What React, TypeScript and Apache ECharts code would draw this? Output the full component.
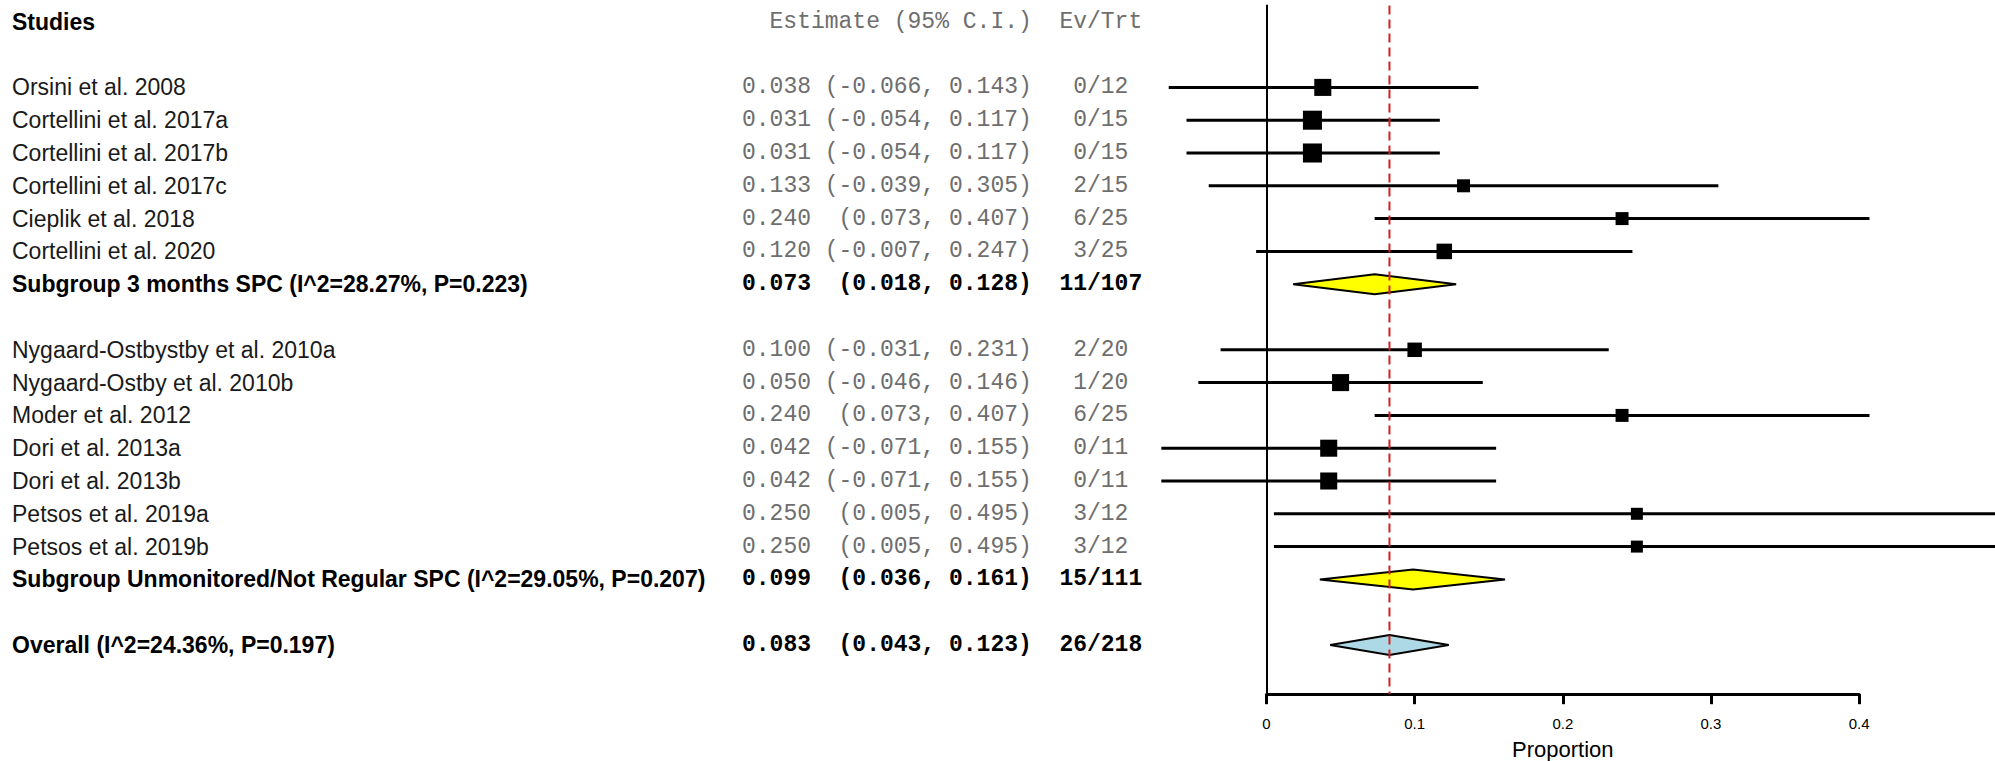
import React, { useEffect, useRef } from "react";
import * as echarts from "echarts";

// ---------------- data ----------------
const headerStudies = "Studies";
const headerEstimate = "Estimate (95% C.I.)";
const headerEvTrt = "Ev/Trt";

const group1Names = [
  "Orsini et al. 2008",
  "Cortellini et al. 2017a",
  "Cortellini et al. 2017b",
  "Cortellini et al. 2017c",
  "Cieplik et al. 2018",
  "Cortellini et al. 2020",
];
const group1Est = [0.038, 0.031, 0.031, 0.133, 0.24, 0.12];
const group1Lower = [-0.066, -0.054, -0.054, -0.039, 0.073, -0.007];
const group1Upper = [0.143, 0.117, 0.117, 0.305, 0.407, 0.247];
const group1Events = [0, 0, 0, 2, 6, 3];
const group1Totals = [12, 15, 15, 15, 25, 25];
const group1Weights = [9.3, 11.6, 11.6, 5.4, 5.4, 7.7];

const group2Names = [
  "Nygaard-Ostbystby et al. 2010a",
  "Nygaard-Ostby et al. 2010b",
  "Moder et al. 2012",
  "Dori et al. 2013a",
  "Dori et al. 2013b",
  "Petsos et al. 2019a",
  "Petsos et al. 2019b",
];
const group2Est = [0.1, 0.05, 0.24, 0.042, 0.042, 0.25, 0.25];
const group2Lower = [-0.031, -0.046, 0.073, -0.071, -0.071, 0.005, 0.005];
const group2Upper = [0.231, 0.146, 0.407, 0.155, 0.155, 0.495, 0.495];
const group2Events = [2, 1, 6, 0, 0, 3, 3];
const group2Totals = [20, 20, 25, 11, 11, 12, 12];
const group2Weights = [6.7, 9.3, 5.4, 9.3, 9.3, 4.6, 4.6];

const subgroupLabels = [
  "Subgroup 3 months SPC (I^2=28.27%, P=0.223)",
  "Subgroup Unmonitored/Not Regular SPC (I^2=29.05%, P=0.207)",
];
const subgroupEst = [0.073, 0.099];
const subgroupLower = [0.018, 0.036];
const subgroupUpper = [0.128, 0.161];
const subgroupEvents = [11, 15];
const subgroupTotals = [107, 111];

const overallLabel = "Overall (I^2=24.36%, P=0.197)";
const overallEst = 0.083;
const overallLower = 0.043;
const overallUpper = 0.123;
const overallEvents = 26;
const overallTotal = 218;

const xTicks = [0, 0.1, 0.2, 0.3, 0.4];
const xAxisTitle = "Proportion";

// ---------------- layout / style ----------------
const W = 1995;
const H = 761;
const SANS = '"Liberation Sans", Arial, Helvetica, sans-serif';
const MONO = '"Liberation Mono", "Courier New", monospace';
const GREY = "#6e6e6e";
const SQUARE_SCALE = 5.59;
const NAME_X = 12;
const EST_X = 742;
const CHAR_W = 13.8;
const CI_RIGHT = EST_X + 21 * CHAR_W;
const EV_CENTER = EST_X + 26 * CHAR_W;

type Row = {
  kind: "header" | "blank" | "study" | "sub" | "overall";
  name?: string;
  est?: number;
  lo?: number;
  hi?: number;
  ev?: number;
  n?: number;
  w?: number;
  fill?: string;
};

function buildRows(): Row[] {
  const rows: Row[] = [{ kind: "header", name: headerStudies }, { kind: "blank" }];
  group1Names.forEach((name, i) =>
    rows.push({
      kind: "study",
      name,
      est: group1Est[i],
      lo: group1Lower[i],
      hi: group1Upper[i],
      ev: group1Events[i],
      n: group1Totals[i],
      w: group1Weights[i],
    })
  );
  rows.push({
    kind: "sub",
    name: subgroupLabels[0],
    est: subgroupEst[0],
    lo: subgroupLower[0],
    hi: subgroupUpper[0],
    ev: subgroupEvents[0],
    n: subgroupTotals[0],
    fill: "#ffff00",
  });
  rows.push({ kind: "blank" });
  group2Names.forEach((name, i) =>
    rows.push({
      kind: "study",
      name,
      est: group2Est[i],
      lo: group2Lower[i],
      hi: group2Upper[i],
      ev: group2Events[i],
      n: group2Totals[i],
      w: group2Weights[i],
    })
  );
  rows.push({
    kind: "sub",
    name: subgroupLabels[1],
    est: subgroupEst[1],
    lo: subgroupLower[1],
    hi: subgroupUpper[1],
    ev: subgroupEvents[1],
    n: subgroupTotals[1],
    fill: "#ffff00",
  });
  rows.push({ kind: "blank" });
  rows.push({
    kind: "overall",
    name: overallLabel,
    est: overallEst,
    lo: overallLower,
    hi: overallUpper,
    ev: overallEvents,
    n: overallTotal,
    fill: "#add8e6",
  });
  rows.push({ kind: "blank" });
  return rows;
}

export default function App() {
  const ref = useRef<HTMLDivElement>(null);

  useEffect(() => {
    if (!ref.current) return;
    const chart = echarts.init(ref.current, undefined, { renderer: "svg" });
    const rows = buildRows();
    const ROW_H = 32.8;
    const gridTop = 5.4;
    const pxPerUnit = 1481.5;
    const gridLeft = 1266.5;

    const tableItem = (params: any, api: any) => {
      const r = rows[params.dataIndex];
      if (r.kind === "blank") return null;
      const y = api.coord([0, params.dataIndex])[1];
      const children: any[] = [];
      if (r.kind === "header") {
        children.push({
          type: "text",
          x: NAME_X,
          y,
          style: {
            text: r.name,
            fontFamily: SANS,
            fontSize: 23,
            fontWeight: "bold",
            fill: "#000",
            align: "left",
            verticalAlign: "middle",
          },
        });
        children.push({
          type: "text",
          x: CI_RIGHT,
          y,
          style: {
            text: headerEstimate,
            fontFamily: MONO,
            fontSize: 23,
            fill: GREY,
            align: "right",
            verticalAlign: "middle",
          },
        });
        children.push({
          type: "text",
          x: EV_CENTER,
          y,
          style: {
            text: headerEvTrt,
            fontFamily: MONO,
            fontSize: 23,
            fill: GREY,
            align: "center",
            verticalAlign: "middle",
          },
        });
        return { type: "group", children };
      }
      const bold = r.kind !== "study";
      const monoFill = bold ? "#000" : GREY;
      const fw = bold ? "bold" : "normal";
      children.push({
        type: "text",
        x: NAME_X,
        y,
        style: {
          text: r.name,
          fontFamily: SANS,
          fontSize: 23,
          fontWeight: fw,
          fill: bold ? "#000" : "#1a1a1a",
          align: "left",
          verticalAlign: "middle",
        },
      });
      children.push({
        type: "text",
        x: EST_X,
        y,
        style: {
          text: (r.est as number).toFixed(3),
          fontFamily: MONO,
          fontSize: 23,
          fontWeight: fw,
          fill: monoFill,
          align: "left",
          verticalAlign: "middle",
        },
      });
      children.push({
        type: "text",
        x: CI_RIGHT,
        y,
        style: {
          text: `(${(r.lo as number).toFixed(3)}, ${(r.hi as number).toFixed(3)})`,
          fontFamily: MONO,
          fontSize: 23,
          fontWeight: fw,
          fill: monoFill,
          align: "right",
          verticalAlign: "middle",
        },
      });
      children.push({
        type: "text",
        x: EV_CENTER,
        y,
        style: {
          text: `${r.ev}/${r.n}`,
          fontFamily: MONO,
          fontSize: 23,
          fontWeight: fw,
          fill: monoFill,
          align: "center",
          verticalAlign: "middle",
        },
      });
      return { type: "group", children };
    };

    const forestItem = (params: any, api: any) => {
      const r = rows[params.dataIndex];
      const i = params.dataIndex;
      if (r.kind === "blank" || r.kind === "header") return null;
      const [xl, y] = api.coord([r.lo, i]);
      const [xh] = api.coord([r.hi, i]);
      const [xc] = api.coord([r.est, i]);
      if (r.kind === "study") {
        const s = SQUARE_SCALE * Math.sqrt(r.w as number);
        return {
          type: "group",
          children: [
            {
              type: "line",
              shape: { x1: xl, y1: y, x2: xh, y2: y },
              style: { stroke: "#000", lineWidth: 3 },
            },
            {
              type: "rect",
              shape: { x: xc - s / 2, y: y - s / 2, width: s, height: s },
              style: { fill: "#000" },
            },
          ],
        };
      }
      const h = 10;
      return {
        type: "polygon",
        shape: {
          points: [
            [xl, y],
            [xc, y - h],
            [xh, y],
            [xc, y + h],
          ],
        },
        style: { fill: r.fill, stroke: "#000", lineWidth: 2 },
      };
    };

    const refLineItem = (params: any, api: any) => {
      const x = api.coord([overallEst, 0])[0];
      const cs = params.coordSys;
      return {
        type: "line",
        shape: { x1: x, y1: cs.y, x2: x, y2: cs.y + cs.height },
        style: { stroke: "#d42020", lineWidth: 2, lineDash: [9, 5] },
      };
    };

    chart.setOption({
      animation: false,
      grid: {
        left: gridLeft,
        top: gridTop,
        width: pxPerUnit * (xTicks[xTicks.length - 1] - xTicks[0]),
        height: ROW_H * rows.length,
        containLabel: false,
        outerBoundsMode: "none",
      },
      xAxis: {
        type: "value",
        min: xTicks[0],
        max: xTicks[xTicks.length - 1],
        interval: 0.1,
        axisLine: { show: true, onZero: false, lineStyle: { color: "#000", width: 3 } },
        axisTick: { show: true, length: 10, lineStyle: { color: "#000", width: 3 } },
        axisLabel: { fontFamily: SANS, fontSize: 15, color: "#000", margin: 22 },
        splitLine: { show: false },
        name: xAxisTitle,
        nameLocation: "middle",
        nameGap: 44,
        nameTextStyle: { fontFamily: SANS, fontSize: 22, color: "#000" },
      },
      yAxis: {
        type: "category",
        inverse: true,
        data: rows.map((_, i) => String(i)),
        axisLine: { show: true, lineStyle: { color: "#000", width: 2 } },
        axisTick: { show: false },
        axisLabel: { show: false },
        splitLine: { show: false },
      },
      series: [
        {
          type: "custom",
          clip: false,
          renderItem: tableItem,
          data: rows.map((r, i) => [r.est ?? 0, i]),
          silent: true,
        },
        {
          type: "custom",
          clip: false,
          renderItem: forestItem,
          data: rows.map((r, i) => [r.est ?? 0, i]),
          silent: true,
        },
        {
          type: "custom",
          clip: false,
          renderItem: refLineItem,
          data: [[overallEst, 0]],
          silent: true,
          z: 10,
        },
      ],
    });
    return () => chart.dispose();
  }, []);

  return (
    <div
      ref={ref}
      style={{ position: "absolute", left: 0, top: 0, width: W, height: H, background: "#fff" }}
    />
  );
}
